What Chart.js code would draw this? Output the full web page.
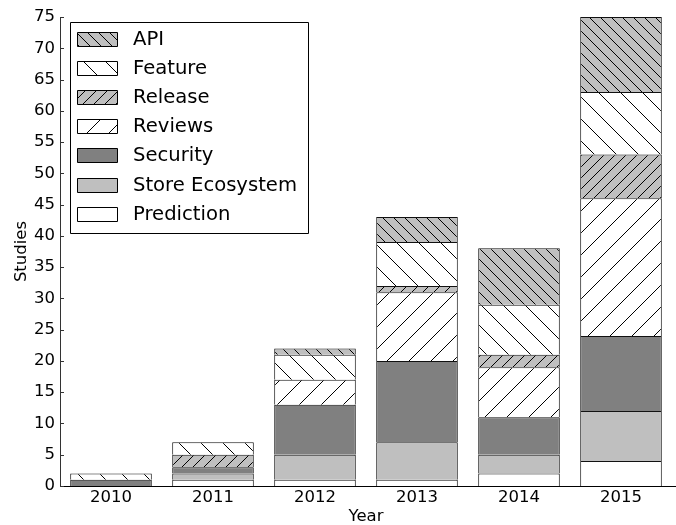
<!DOCTYPE html>
<html>
<head>
<meta charset="utf-8">
<script src="https://cdn.jsdelivr.net/npm/chart.js@4/dist/chart.umd.min.js"></script>
<style>
html,body{margin:0;padding:0;background:#fff;}
#wrap{width:676px;height:525px;}
</style>
</head>
<body>
<div id="wrap"><canvas id="c" width="676" height="525"></canvas></div>
<script>
// ---- data ----
const years = ['2010', '2011', '2012', '2013', '2014', '2015'];
const prediction     = [0, 1, 1, 1, 2, 4];
const storeEcosystem = [0, 1, 4, 6, 3, 8];
const security       = [1, 1, 8, 13, 6, 12];
const reviews        = [0, 0, 4, 11, 8, 22];
const release        = [0, 2, 0, 1, 2, 7];
const feature        = [1, 2, 4, 7, 8, 10];
const api            = [0, 0, 1, 4, 9, 12];
const yTicks = [0, 5, 10, 15, 20, 25, 30, 35, 40, 45, 50, 55, 60, 65, 70, 75];

// ---- hatch patterns ----
function hatch(bg, p, dir) {
  const c = document.createElement('canvas');
  c.width = p; c.height = p;
  const g = c.getContext('2d');
  g.fillStyle = bg; g.fillRect(0, 0, p, p);
  g.strokeStyle = '#000'; g.lineWidth = 1;
  g.beginPath();
  for (const k of [-1, 0, 1]) {
    if (dir === '/') { g.moveTo(-2, p + 2 + k * p); g.lineTo(p + 2, -2 + k * p); }
    else { g.moveTo(-2, -2 + k * p); g.lineTo(p + 2, p + 2 + k * p); }
  }
  g.stroke();
  return document.getElementById('c').getContext('2d').createPattern(c, 'repeat');
}
const LIGHT = '#bfbfbf', DARK = '#808080', WHITE = '#ffffff';

const series = [
  { label: 'Prediction', data: prediction, bg: WHITE },
  { label: 'Store Ecosystem', data: storeEcosystem, bg: LIGHT },
  { label: 'Security', data: security, bg: DARK },
  { label: 'Reviews', data: reviews, bg: hatch(WHITE, 22, '/') },
  { label: 'Release', data: release, bg: hatch(LIGHT, 11, '/') },
  { label: 'Feature', data: feature, bg: hatch(WHITE, 22, '\\') },
  { label: 'API', data: api, bg: hatch(LIGHT, 11, '\\') }
];

const FONT = 'DejaVu Sans';

const boxLegend = {
  id: 'boxLegend',
  afterDraw(chart) {
    const ctx = chart.ctx;
    const ca = chart.chartArea;
    ctx.save();
    // extend bottom spine to the edge
    ctx.strokeStyle = '#000'; ctx.lineWidth = 1;
    ctx.beginPath(); ctx.moveTo(ca.left, Math.round(ca.bottom) + 0.5); ctx.lineTo(676, Math.round(ca.bottom) + 0.5); ctx.stroke();
    // inward y ticks
    const ys = chart.scales.y;
    ctx.strokeStyle = '#333';
    ctx.beginPath();
    yTicks.forEach(v => {
      const py = Math.round(ys.getPixelForValue(v)) + 0.5;
      ctx.moveTo(ca.left, py); ctx.lineTo(ca.left + 4, py);
    });
    ctx.stroke();
    // legend
    ctx.fillStyle = '#fff'; ctx.strokeStyle = '#000';
    ctx.beginPath(); ctx.rect(70.5, 22.5, 238, 211); ctx.fill(); ctx.stroke();
    const ds = chart.data.datasets.slice().reverse();
    ctx.font = '19.6px "' + FONT + '"';
    ctx.textBaseline = 'middle'; ctx.textAlign = 'left';
    ds.forEach((d, i) => {
      const cy = 38.5 + i * 29.2;
      const top = Math.round(cy - 7) + 0.5;
      ctx.fillStyle = d.backgroundColor;
      ctx.beginPath(); ctx.rect(77.5, top, 40, 14); ctx.fill();
      ctx.strokeStyle = '#000'; ctx.stroke();
      ctx.fillStyle = '#000';
      ctx.fillText(d.label, 133, cy + 1);
    });
    ctx.restore();
  }
};

new Chart(document.getElementById('c'), {
  type: 'bar',
  data: {
    labels: years,
    datasets: series.map(s => ({
      label: s.label,
      data: s.data.map(v => (v === 0 ? null : v)),
      backgroundColor: s.bg,
      borderColor: '#111',
      borderWidth: 1,
      borderSkipped: 'start',
      barPercentage: 0.8,
      categoryPercentage: 1.0
    }))
  },
  options: {
    responsive: false,
    animation: false,
    layout: { padding: { left: 0, right: 4, top: 17, bottom: 0 } },
    plugins: { legend: { display: false }, tooltip: { enabled: false } },
    scales: {
      x: {
        stacked: true,
        grid: { display: false, drawTicks: false },
        border: { display: true, color: '#000', width: 1 },
        ticks: { color: '#000', padding: 2, font: { family: FONT, size: 16.5 } },
        title: { display: true, text: 'Year', color: '#000', padding: { top: 0, bottom: -2 }, font: { family: FONT, size: 16.5 } },
        afterFit(s) { s.height = 39; }
      },
      y: {
        stacked: true,
        min: 0, max: 75,
        afterBuildTicks(s) { s.ticks = yTicks.map(v => ({ value: v })); },
        grid: { display: false, drawTicks: false },
        border: { display: true, color: '#333', width: 1 },
        ticks: { color: '#000', padding: 5, font: { family: FONT, size: 16.5 } },
        title: { display: true, text: 'Studies', color: '#000', padding: { top: 12, bottom: 0 }, font: { family: FONT, size: 16.5 } },
        afterFit(s) { s.width = 60; }
      }
    }
  },
  plugins: [boxLegend]
});
</script>
</body>
</html>
